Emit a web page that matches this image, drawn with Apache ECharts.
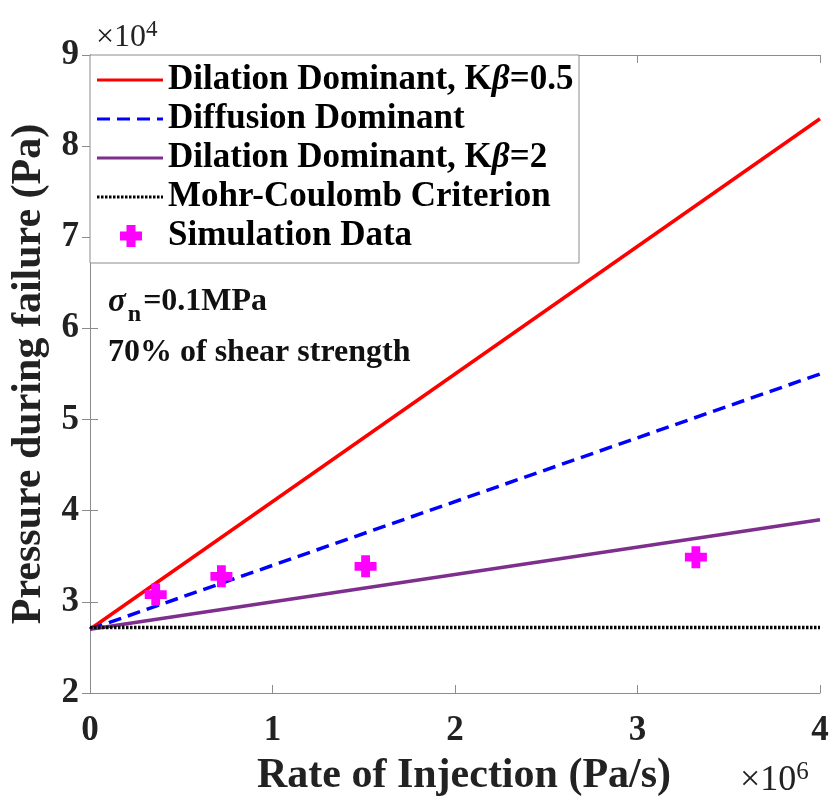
<!DOCTYPE html>
<html>
<head>
<meta charset="utf-8">
<script src="https://cdn.jsdelivr.net/npm/echarts@6/dist/echarts.min.js"></script>
<style>html,body{margin:0;padding:0;background:#fff}#c{width:833px;height:799px}</style>
</head>
<body>
<div id="c"></div>
<script>
// x in units of 1e6 Pa/s, y in units of 1e4 Pa
const xTicks = [0, 1, 2, 3, 4];
const yTicks = [2, 3, 4, 5, 6, 7, 8, 9];
const lineX = [0, 4];
const dilation05 = [2.7, 8.3];
const diffusion = [2.7, 5.5];
const dilation2 = [2.7, 3.9];
const mohrCoulomb = [2.72, 2.72];
const simX = [0.36, 0.72, 1.51, 3.32];
const simY = [3.08, 3.28, 3.39, 3.49];
const legendNames = ['Dilation Dominant, K{b|β}=0.5', 'Diffusion Dominant', 'Dilation Dominant, K{b|β}=2', 'Mohr-Coulomb Criterion', 'Simulation Data'];

const FONT = '"Liberation Serif", "Times New Roman", serif';
const pair = (xs, ys) => xs.map((x, i) => [x, ys[i]]);
const plusPath = 'path://M3,0h4v3h3v4h-3v3h-4v-3h-3v-4h3z';
const axisCol = '#8c8c8c';

const chart = echarts.init(document.getElementById('c'), null, {renderer: 'canvas'});

const L = 90, T = 55, R = 820, B = 693;
const legendRows = [80, 119, 158, 197, 236];
const legendGraphics = [
  {type: 'rect', shape: {x: L, y: T, width: 489, height: 208}, style: {fill: '#fff', stroke: axisCol, lineWidth: 1}, z: 100},
  {type: 'line', shape: {x1: 97, y1: legendRows[0], x2: 163, y2: legendRows[0]}, style: {stroke: '#ff0000', lineWidth: 3}, z: 101},
  {type: 'line', shape: {x1: 97, y1: legendRows[1], x2: 163, y2: legendRows[1]}, style: {stroke: '#0000ff', lineWidth: 3, lineDash: [13, 7]}, z: 101},
  {type: 'line', shape: {x1: 97, y1: legendRows[2], x2: 163, y2: legendRows[2]}, style: {stroke: '#7e2f8e', lineWidth: 3}, z: 101},
  {type: 'line', shape: {x1: 97, y1: legendRows[3], x2: 163, y2: legendRows[3]}, style: {stroke: '#000', lineWidth: 3, lineDash: [2.5, 1.5]}, z: 101},
  {type: 'rect', shape: {x: 120, y: legendRows[4] - 4.5, width: 22, height: 9}, style: {fill: '#ff00ff'}, z: 101},
  {type: 'rect', shape: {x: 126.5, y: legendRows[4] - 11, width: 9, height: 22}, style: {fill: '#ff00ff'}, z: 101}
];
legendNames.forEach((n, i) => {
  legendGraphics.push({
    type: 'text', x: 168, y: legendRows[i], z: 101,
    style: {text: n, font: 'bold 35px ' + FONT, fill: '#000', verticalAlign: 'middle',
      rich: {b: {font: 'italic bold 35px ' + FONT, fill: '#000'}}}
  });
});

const baseSeries = (name, ys, color, type, width) => ({
  name, type: 'line', data: pair(lineX, ys), showSymbol: false, symbol: 'none',
  lineStyle: {color, width, type}, z: 3, silent: true, animation: false
});

chart.setOption({
  animation: false,
  grid: {left: L, top: T, right: 833 - R, bottom: 799 - B, show: false, containLabel: false, outerBoundsMode: 'none'},
  xAxis: [
    {type: 'value', min: 0, max: 4, interval: 1, position: 'bottom',
     axisLine: {show: true, lineStyle: {color: axisCol, width: 1}},
     axisTick: {show: true, inside: true, length: 8, lineStyle: {color: axisCol}},
     splitLine: {show: false},
     axisLabel: {fontFamily: FONT, fontWeight: 'bold', fontSize: 35, color: '#222', margin: 20},
     name: 'Rate of Injection (Pa/s)', nameLocation: 'middle', nameGap: 62,
     nameTextStyle: {fontFamily: FONT, fontWeight: 'bold', fontSize: 42, color: '#222', padding: [0, 0, 0, 18]}},
    {type: 'value', min: 0, max: 4, interval: 1, position: 'top',
     axisLine: {show: true, lineStyle: {color: axisCol, width: 1}},
     axisTick: {show: true, inside: true, length: 8, lineStyle: {color: axisCol}},
     axisLabel: {show: false}, splitLine: {show: false}}
  ],
  yAxis: [
    {type: 'value', min: 2, max: 9, interval: 1, position: 'left',
     axisLine: {show: true, lineStyle: {color: axisCol, width: 1}},
     axisTick: {show: true, inside: true, length: 8, lineStyle: {color: axisCol}},
     splitLine: {show: false},
     axisLabel: {fontFamily: FONT, fontWeight: 'bold', fontSize: 35, color: '#222', margin: 11},
     name: 'Pressure during failure (Pa)', nameLocation: 'middle', nameGap: 39, nameRotate: 90,
     nameTextStyle: {fontFamily: FONT, fontWeight: 'bold', fontSize: 42, color: '#222'}},
    {type: 'value', min: 2, max: 9, interval: 1, position: 'right',
     axisLine: {show: true, lineStyle: {color: axisCol, width: 1}},
     axisTick: {show: true, inside: true, length: 8, lineStyle: {color: axisCol}},
     axisLabel: {show: false}, splitLine: {show: false}}
  ],
  series: [
    baseSeries('Dilation Dominant, Kβ=0.5', dilation05, '#ff0000', 'solid', 3.5),
    baseSeries('Diffusion Dominant', diffusion, '#0000ff', [13, 7], 3.5),
    baseSeries('Dilation Dominant, Kβ=2', dilation2, '#7e2f8e', 'solid', 3.5),
    baseSeries('Mohr-Coulomb Criterion', mohrCoulomb, '#000000', [2.5, 1.5], 3.5),
    {name: 'Simulation Data', type: 'scatter', data: pair(simX, simY), symbol: plusPath, symbolSize: 22,
     itemStyle: {color: '#ff00ff', opacity: 1}, z: 4, silent: true}
  ],
  graphic: [
    ...legendGraphics,
    {type: 'text', x: 96, y: 38, style: {text: '×10{s|4}', font: '32px ' + FONT, fill: '#222', verticalAlign: 'middle',
      rich: {s: {font: '23px ' + FONT, fill: '#222', verticalAlign: 'bottom', padding: [0, 0, 16, 0]}}}},
    {type: 'text', x: 740, y: 781, style: {text: '×10{s|6}', font: '36px ' + FONT, fill: '#222', verticalAlign: 'middle',
      rich: {s: {font: '25px ' + FONT, fill: '#222', verticalAlign: 'bottom', padding: [0, 0, 18, 0]}}}},
    {type: 'text', x: 108, y: 302, style: {text: '{i|σ}{sub|n}=0.1MPa', font: 'bold 32px ' + FONT, fill: '#111', verticalAlign: 'middle',
      rich: {i: {font: 'italic bold 33px ' + FONT, fill: '#111'}, sub: {font: 'bold 24px ' + FONT, fill: '#111', padding: [26, 2, 0, 2]}}}},
    {type: 'text', x: 108, y: 353, style: {text: '70% of shear strength', font: 'bold 32px ' + FONT, fill: '#111', verticalAlign: 'middle'}}
  ]
});
</script>
</body>
</html>
